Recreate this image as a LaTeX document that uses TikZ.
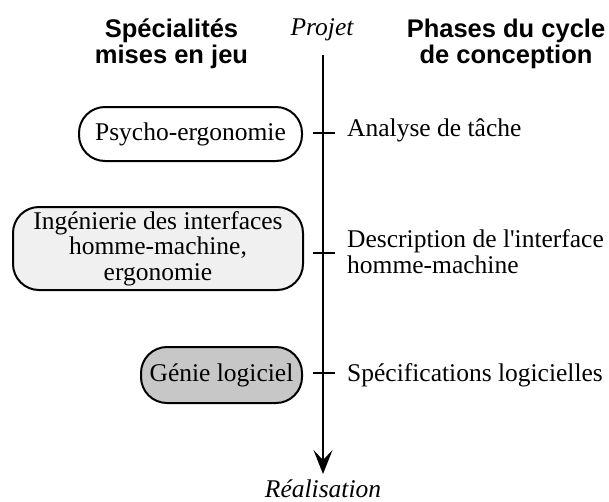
\documentclass[tikz,border=0pt]{standalone}
\usepackage{fontspec}
\setmainfont{Liberation Serif}
\newfontfamily\headfont{Liberation Sans}
\usetikzlibrary{arrows.meta}
\begin{document}
\begin{tikzpicture}[x=1pt,y=-1pt,
  heading/.style={font=\headfont\bfseries\fontsize{25.5}{26}\selectfont, align=center, inner sep=0pt, anchor=base},
  body/.style={font=\fontsize{25.5}{25.5}\selectfont},
  spec/.style={draw, line width=2pt, rounded corners=26pt, align=center, body, inner sep=0pt},
  phase/.style={anchor=base west, align=left, body, inner sep=0pt},
  endlabel/.style={font=\itshape\fontsize{25.5}{26}\selectfont, inner sep=0pt, anchor=base},
  tick/.style={line width=2pt},
  axis/.style={line width=2pt, -{Stealth[length=24pt,width=19pt,inset=10pt]}}]
\useasboundingbox (0,0) rectangle (609,501);

% column headings (anchored on the baseline of their last line)
\node[heading] (hleft) at (171.5,63) {Spécialités\\mises en jeu};
\node[heading] (hright) at (506,63) {Phases du cycle\\de conception};

% time axis
\node[endlabel] (projet) at (322,35) {Projet};
\node[endlabel] (real) at (323,497) {Réalisation};
\coordinate (atop) at (323,55);
\coordinate (abot) at (323,474);
\draw[axis] (atop) -- (abot);

% specialities
\node[spec, minimum width=223pt, minimum height=54pt] (psy) at (190.5,134) {Psycho-ergonomie};
\node[spec, fill=black!6, minimum width=290pt, minimum height=83pt] (ihm) at (158,248.5)
  {Ingénierie des interfaces\\homme-machine,\\ergonomie};
\node[spec, fill=black!22, minimum width=161pt, minimum height=56pt] (gl) at (221.5,375) {Génie logiciel};

% ticks on the axis
\coordinate (t1a) at (313,133); \coordinate (t1b) at (335,133);
\coordinate (t2a) at (313,253); \coordinate (t2b) at (335,253);
\coordinate (t3a) at (313,373); \coordinate (t3b) at (335,373);
\draw[tick] (t1a) -- (t1b);
\draw[tick] (t2a) -- (t2b);
\draw[tick] (t3a) -- (t3b);

% design phases (multi-line text anchored on its last baseline)
\node[phase] (p1) at (347,136) {Analyse de tâche};
\node[phase] (p2) at (347,273) {Description de l\textquotesingle interface\\homme-machine};
\node[phase] (p3) at (347,381) {Spécifications logicielles};
\end{tikzpicture}
\end{document}
